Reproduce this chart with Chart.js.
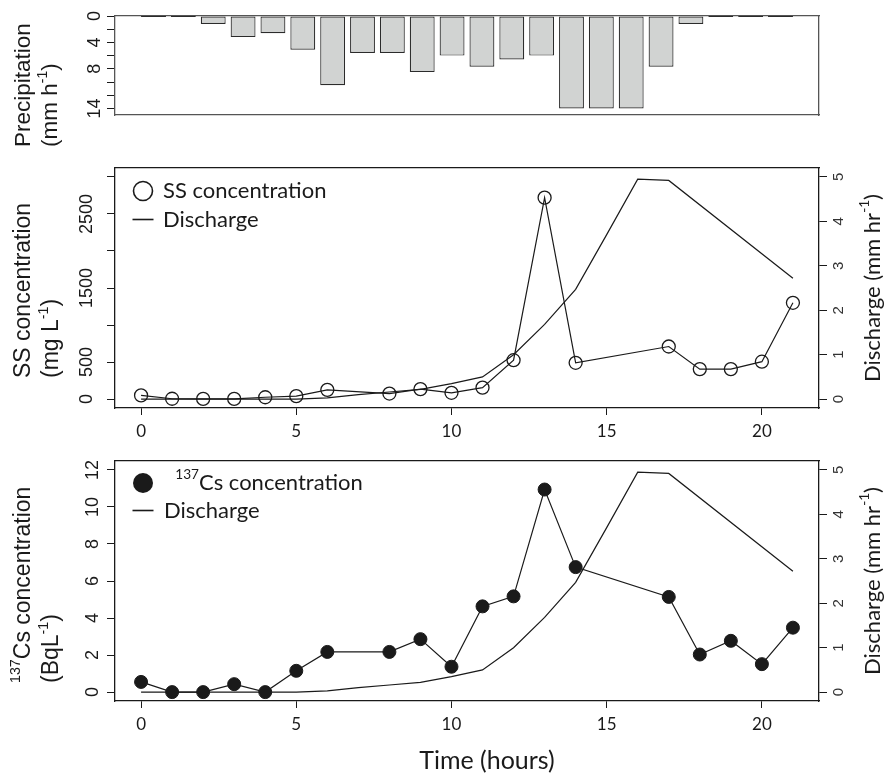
<!DOCTYPE html>
<html>
<head>
<meta charset="utf-8">
<title>Precipitation, SS and 137Cs during the storm</title>
<script src="https://cdn.jsdelivr.net/npm/chart.js@4.4.1/dist/chart.umd.min.js"></script>
<style>
	body { margin: 0; background: #fff; }
	#page { position: relative; width: 885px; height: 773px; }
	canvas { position: absolute; left: 0; }
</style>
</head>
<body>
<div id="page">
	<canvas id="rain" width="885" height="160" style="top:0"></canvas>
	<canvas id="ss" width="885" height="310" style="top:130px"></canvas>
	<canvas id="cs" width="885" height="333" style="top:440px"></canvas>
</div>
<script>
// hourly precipitation (mm/h), one bar per hour
const rainHours = [0, 1, 2, 3, 4, 5, 6, 7, 8, 9, 10, 11, 12, 13, 14, 15, 16, 17, 18, 19, 20, 21];
const rainfall = [0, 0, 1.2, 3.2, 2.6, 5.1, 10.5, 5.6, 5.6, 8.5, 6.0, 7.7, 6.6, 6.0, 14, 14, 14, 7.7, 1.2, 0, 0, 0];
const rainTicks = [0, 2, 4, 6, 8, 10, 12, 14];
const rainTickLabels = [0, 4, 8, 14];

// hours at which water was sampled
const sampleHours = [0, 1, 2, 3, 4, 5, 6, 8, 9, 10, 11, 12, 13, 14, 17, 18, 19, 20, 21];
const ssConc = [50, 5, 3, 3, 25, 40, 125, 75, 135, 85, 155, 525, 2720, 490, 710, 405, 405, 505, 1300];
const csConc = [0.55, 0, 0, 0.43, 0, 1.15, 2.17, 2.17, 2.86, 1.37, 4.63, 5.17, 10.94, 6.75, 5.14, 2.03, 2.77, 1.51, 3.48];

// discharge (mm/hr)
const dischargeHours = [0, 1, 2, 3, 4, 5, 6, 7, 8, 9, 10, 11, 12, 13, 14, 15, 16, 17, 21];
const discharge = [0, 0, 0, 0, 0, 0, 0.03, 0.1, 0.16, 0.22, 0.35, 0.5, 1.0, 1.68, 2.47, 3.7, 4.95, 4.92, 2.72];

const hourTicks = [0, 5, 10, 15, 20];
const ssTicks = [0, 500, 1000, 1500, 2000, 2500, 3000];
const ssTickLabels = [0, 500, 1500, 2500];
const csTicks = [0, 2, 4, 6, 8, 10, 12];
const dischargeTicks = [0, 1, 2, 3, 4, 5];

const INK = '#1a1a1a';
const ARIAL = "'Liberation Sans', Arial, sans-serif";
const HUMANIST = "Lato, 'Open Sans', sans-serif";

// R style axis limits: data range widened by 4% on each side
function rRange(lo, hi) {
	const d = (hi - lo) * 0.04;
	return { min: lo - d, max: hi + d };
}

// barplot(space = 0.2): bar i is centred at 0.7 + 1.2 i (in bar widths)
function barRange(n) {
	const lim = rRange(0.2, 1.2 * n);
	return { min: (lim.min - 0.7) / 1.2, max: (lim.max - 0.7) / 1.2 };
}

const hourRange = rRange(0, 21);

function fixedSize(px) {
	return (scale) => {
		if (scale.isHorizontal()) scale.height = px;
		else scale.width = px;
	};
}

function setTicks(values) {
	return (scale) => {
		scale.ticks = values.map((value) => ({ value }));
	};
}

// axis that only draws one side of the box
function frameAxis(position, color) {
	return {
		type: 'linear',
		position,
		ticks: { display: false },
		grid: { drawOnChartArea: false, drawTicks: false },
		border: { color, width: 1.3 },
		afterFit: fixedSize(0),
	};
}

function leftAxis(range, ticks, labelled, padding) {
	return {
		type: 'linear',
		position: 'left',
		min: range.min,
		max: range.max,
		afterBuildTicks: setTicks(ticks),
		afterFit: fixedSize(115),
		ticks: {
			autoSkip: false,
			minRotation: 90,
			maxRotation: 90,
			crossAlign: 'center',
			padding,
			color: INK,
			font: { family: ARIAL, size: 18 },
			callback: (v) => (labelled.includes(v) ? String(v) : ''),
		},
		grid: { drawOnChartArea: false, tickLength: 8, color: INK },
		border: { color: INK, width: 1.3 },
	};
}

function dischargeAxis() {
	return {
		type: 'linear',
		position: 'right',
		min: -0.2,
		max: 5.2,
		afterBuildTicks: setTicks(dischargeTicks),
		afterFit: fixedSize(66),
		ticks: {
			autoSkip: false,
			minRotation: 90,
			maxRotation: 90,
			crossAlign: 'center',
			padding: 8,
			color: '#333',
			font: { family: ARIAL, size: 15 },
		},
		grid: { drawOnChartArea: false, tickLength: 8, color: INK },
		border: { color: INK, width: 1.3 },
	};
}

function hourAxis(height) {
	return {
		type: 'linear',
		position: 'bottom',
		min: hourRange.min,
		max: hourRange.max,
		afterBuildTicks: setTicks(hourTicks),
		afterFit: fixedSize(height),
		ticks: { autoSkip: false, maxRotation: 0, padding: 6, color: INK, font: { family: HUMANIST, size: 17 } },
		grid: { drawOnChartArea: false, tickLength: 7, color: INK },
		border: { color: INK, width: 1.3 },
	};
}

// text run with superscripts, drawn from the current origin
function drawParts(ctx, parts, family, size, align) {
	const fontOf = (p) => `${p.sup ? size * 0.62 : size}px ${family}`;
	const widths = parts.map((p) => {
		ctx.font = fontOf(p);
		return ctx.measureText(p.t).width;
	});
	const total = widths.reduce((a, b) => a + b, 0);
	let x = align === 'center' ? -total / 2 : 0;
	ctx.textAlign = 'left';
	ctx.textBaseline = 'middle';
	parts.forEach((p, i) => {
		ctx.font = fontOf(p);
		ctx.fillText(p.t, x, p.sup ? -size * 0.36 : 0);
		x += widths[i];
	});
}

// axis titles (R style, vertical ones read upwards) and the boxed-in legend
function textLayer(labels, legend) {
	return {
		id: 'textLayer',
		afterDraw(chart) {
			const { ctx, chartArea } = chart;
			ctx.save();
			ctx.fillStyle = INK;
			ctx.strokeStyle = INK;
			labels.forEach((l) => {
				ctx.save();
				ctx.translate(l.x, l.y);
				if (l.vertical) ctx.rotate(-Math.PI / 2);
				drawParts(ctx, l.parts, l.family, l.size, l.align);
				ctx.restore();
			});
			if (legend) {
				legend.rows.forEach((row, i) => {
					const cx = chartArea.left + legend.markerX;
					const cy = chartArea.top + legend.firstY + i * legend.rowGap;
					ctx.lineWidth = 1.6;
					ctx.beginPath();
					if (row.marker === 'line') {
						ctx.moveTo(cx - 10.5, cy);
						ctx.lineTo(cx + 10.5, cy);
						ctx.stroke();
					} else if (row.marker === 'disc') {
						ctx.arc(cx, cy, 10, 0, Math.PI * 2);
						ctx.fill();
					} else {
						ctx.arc(cx, cy, 9.5, 0, Math.PI * 2);
						ctx.stroke();
					}
					ctx.save();
					ctx.translate(chartArea.left + legend.textX, cy);
					drawParts(ctx, row.parts, HUMANIST, 22, 'left');
					ctx.restore();
				});
			}
			ctx.restore();
		},
	};
}

const quiet = { legend: { display: false }, tooltip: { enabled: false } };
const xy = (xs, ys) => xs.map((x, i) => ({ x, y: ys[i] }));

// precipitation, hanging from the top
const rainX = barRange(rainHours.length);
new Chart(document.getElementById('rain'), {
	type: 'bar',
	data: {
		datasets: [
			{
				label: 'Precipitation',
				data: xy(rainHours, rainfall),
				backgroundColor: '#d1d3d2',
				borderColor: '#2b2b2b',
				borderWidth: 1.2,
				borderSkipped: false,
				barPercentage: 1 / 1.2,
				categoryPercentage: 1,
				minBarLength: 2,
			},
		],
	},
	options: {
		responsive: false,
		animation: false,
		layout: { padding: { left: 0, right: 66, top: 16, bottom: 45 }, autoPadding: false },
		plugins: quiet,
		scales: {
			x: {
				type: 'linear',
				offset: false,
				min: rainX.min,
				max: rainX.max,
				afterBuildTicks: setTicks(rainHours),
				afterFit: fixedSize(0),
				ticks: { display: false },
				grid: { drawOnChartArea: false, drawTicks: false },
				border: { color: '#555', width: 1.3 },
			},
			xTop: frameAxis('top', '#555'),
			y: Object.assign(leftAxis({ min: 0, max: 15 }, rainTicks, rainTickLabels, 2), {
				reverse: true,
				border: { color: '#555', width: 1.3 },
			}),
			yRight: frameAxis('right', '#555'),
		},
	},
	plugins: [
		textLayer([
			{ x: 24, y: 147, vertical: true, family: ARIAL, size: 22.5, parts: [{ t: 'Precipitation' }] },
			{ x: 51, y: 147, vertical: true, family: ARIAL, size: 22.5, parts: [{ t: '(mm h' }, { t: '-1', sup: true }, { t: ')' }] },
		]),
	],
});

// suspended sediment and discharge
new Chart(document.getElementById('ss'), {
	type: 'line',
	data: {
		datasets: [
			{
				label: 'SS concentration',
				data: xy(sampleHours, ssConc),
				yAxisID: 'y',
				borderColor: INK,
				borderWidth: 1.2,
				pointRadius: 6.5,
				pointBorderWidth: 1.3,
				pointBorderColor: INK,
				pointBackgroundColor: 'rgba(0,0,0,0)',
			},
			{
				label: 'Discharge',
				data: xy(dischargeHours, discharge),
				yAxisID: 'y1',
				borderColor: INK,
				borderWidth: 1.2,
				pointRadius: 0,
			},
		],
	},
	options: {
		responsive: false,
		animation: false,
		layout: { padding: { left: 0, right: 0, top: 38, bottom: 0 }, autoPadding: false },
		plugins: quiet,
		scales: {
			x: hourAxis(32),
			xTop: frameAxis('top', INK),
			y: leftAxis(rRange(0, 3000), ssTicks, ssTickLabels, 0),
			y1: dischargeAxis(),
		},
	},
	plugins: [
		textLayer(
			[
				{ x: 24, y: 248, vertical: true, family: ARIAL, size: 23, parts: [{ t: 'SS concentration' }] },
				{ x: 52, y: 248, vertical: true, family: ARIAL, size: 23, parts: [{ t: '(mg L' }, { t: '-1', sup: true }, { t: ')' }] },
				{ x: 873, y: 158, vertical: true, align: 'center', family: HUMANIST, size: 22, parts: [{ t: 'Discharge (mm hr' }, { t: '-1', sup: true }, { t: ')' }] },
			],
			{
				markerX: 28,
				textX: 48,
				firstY: 23,
				rowGap: 28.5,
				rows: [
					{ marker: 'ring', parts: [{ t: 'SS concentration' }] },
					{ marker: 'line', parts: [{ t: 'Discharge' }] },
				],
			}
		),
	],
});

// 137Cs and discharge
new Chart(document.getElementById('cs'), {
	type: 'line',
	data: {
		datasets: [
			{
				label: '137Cs concentration',
				data: xy(sampleHours, csConc),
				yAxisID: 'y',
				borderColor: INK,
				borderWidth: 1.2,
				pointRadius: 6.5,
				pointBorderWidth: 1,
				pointBorderColor: INK,
				pointBackgroundColor: INK,
			},
			{
				label: 'Discharge',
				data: xy(dischargeHours, discharge),
				yAxisID: 'y1',
				borderColor: INK,
				borderWidth: 1.2,
				pointRadius: 0,
			},
		],
	},
	options: {
		responsive: false,
		animation: false,
		layout: { padding: { left: 0, right: 0, top: 21, bottom: 0 }, autoPadding: false },
		plugins: quiet,
		scales: {
			x: hourAxis(72),
			xTop: frameAxis('top', INK),
			y: leftAxis(rRange(0, 12), csTicks, csTicks, 4),
			y1: dischargeAxis(),
		},
	},
	plugins: [
		textLayer(
			[
				{ x: 24, y: 243, vertical: true, family: ARIAL, size: 23, parts: [{ t: '137', sup: true }, { t: 'Cs concentration' }] },
				{ x: 52, y: 243, vertical: true, family: ARIAL, size: 23, parts: [{ t: '(BqL' }, { t: '-1', sup: true }, { t: ')' }] },
				{ x: 873, y: 141, vertical: true, align: 'center', family: HUMANIST, size: 22, parts: [{ t: 'Discharge (mm hr' }, { t: '-1', sup: true }, { t: ')' }] },
				{ x: 487, y: 321, align: 'center', family: HUMANIST, size: 25, parts: [{ t: 'Time (hours)' }] },
			],
			{
				markerX: 28,
				textX: 49,
				firstY: 22,
				rowGap: 27.5,
				rows: [
					{ marker: 'disc', parts: [{ t: '  ' }, { t: '137', sup: true }, { t: 'Cs concentration' }] },
					{ marker: 'line', parts: [{ t: 'Discharge' }] },
				],
			}
		),
	],
});
</script>
</body>
</html>
